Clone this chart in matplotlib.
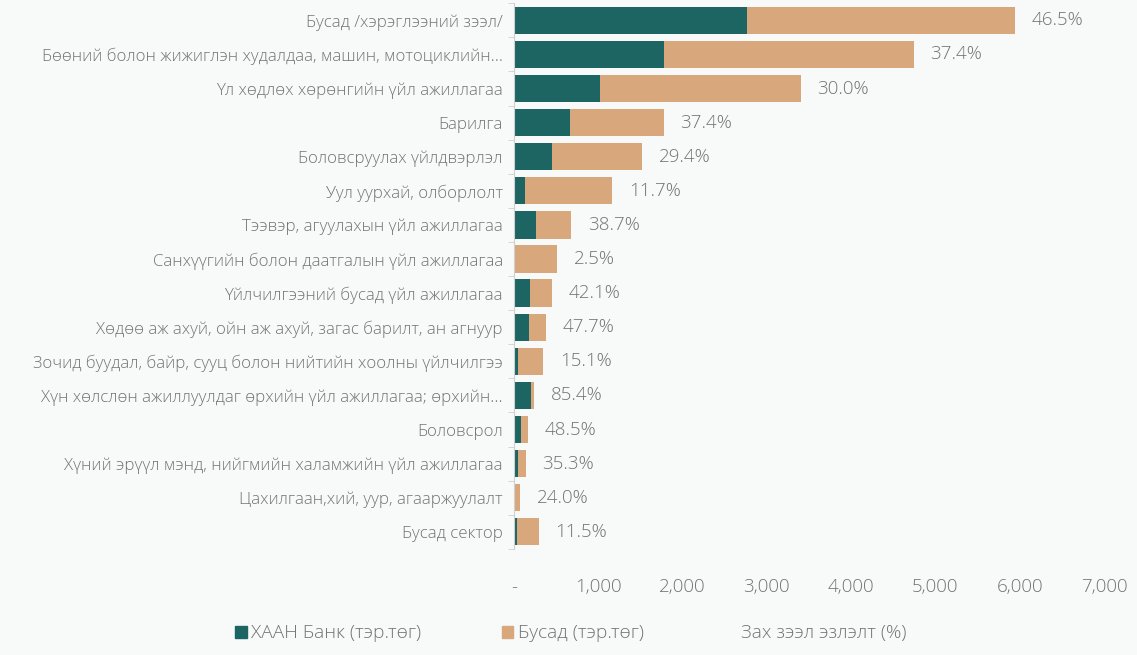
import numpy as np
import matplotlib.pyplot as plt
from matplotlib.patches import Patch

plt.rcParams['font.family'] = ['Open Sans', 'DejaVu Sans']
plt.rcParams['font.weight'] = 'light'

sectors = ['Бусад /хэрэглээний зээл/',
           'Бөөний болон жижиглэн худалдаа, машин, мотоциклийн...',
           'Үл хөдлөх хөрөнгийн үйл ажиллагаа',
           'Барилга',
           'Боловсруулах үйлдвэрлэл',
           'Уул уурхай, олборлолт',
           'Тээвэр, агуулахын үйл ажиллагаа',
           'Санхүүгийн болон даатгалын үйл ажиллагаа',
           'Үйлчилгээний бусад үйл ажиллагаа',
           'Хөдөө аж ахуй, ойн аж ахуй, загас барилт, ан агнуур',
           'Зочид буудал, байр, сууц болон нийтийн хоолны үйлчилгээ',
           'Хүн хөлслөн ажиллуулдаг өрхийн үйл ажиллагаа; өрхийн...',
           'Боловсрол',
           'Хүний эрүүл мэнд, нийгмийн халамжийн үйл ажиллагаа',
           'Цахилгаан,хий, уур, агааржуулалт',
           'Бусад сектор']
# ХААН Банк, тэр.төг
khan = [2760, 1775, 1020, 665, 447, 136, 264, 13, 188, 181, 53, 204, 81, 50, 18, 34]
# Бусад, тэр.төг
other = [3180, 2968, 2380, 1112, 1075, 1029, 418, 496, 258, 198, 297, 35, 86, 92, 57, 263]
share = ['46.5%', '37.4%', '30.0%', '37.4%', '29.4%', '11.7%', '38.7%', '2.5%',
         '42.1%', '47.7%', '15.1%', '85.4%', '48.5%', '35.3%', '24.0%', '11.5%']
xticks = [0, 1000, 2000, 3000, 4000, 5000, 6000, 7000]
xticklabels = ['-', '1,000', '2,000', '3,000', '4,000', '5,000', '6,000', '7,000']

teal = '#1d6562'
tan = '#d9a77c'
grey = '#737373'
bg = '#f8f9f9'

fig = plt.figure(figsize=(11.37, 6.55), dpi=100, facecolor=bg)
ax = fig.add_axes([0.452, 0.162, 0.519, 0.833], facecolor=bg)

y = np.arange(len(sectors))
ax.barh(y, khan, height=0.8, color=teal)
ax.barh(y, other, left=khan, height=0.8, color=tan)

for i in range(len(sectors)):
    ax.annotate(share[i], (khan[i] + other[i], y[i]), xytext=(12, 0),
                textcoords='offset points', va='center', ha='left',
                fontsize=13.5, color=grey)

ax.set_ylim(len(sectors) - 0.5, -0.5)
ax.set_xlim(0, 7000)
ax.set_yticks(y)
ax.set_yticklabels(sectors, fontsize=12.2, color=grey)
ax.set_yticks(np.arange(len(sectors) + 1) - 0.5, minor=True)
ax.tick_params(axis='y', which='major', length=0, pad=8)
ax.tick_params(axis='y', which='minor', length=4, color='#d0d0d0')
ax.set_xticks(xticks)
ax.set_xticklabels(xticklabels, fontsize=13.5, color=grey)
ax.tick_params(axis='x', length=0, pad=21)
for s in ['top', 'right', 'bottom']:
    ax.spines[s].set_visible(False)
ax.spines['left'].set_color('#d0d0d0')

handles = [Patch(color=teal), Patch(color=tan), Patch(color='none')]
fig.legend(handles, ['ХААН Банк (тэр.төг)', 'Бусад (тэр.төг)', 'Зах зээл эзлэлт (%)'],
           loc='center', bbox_to_anchor=(0.502, 0.033), ncol=3, frameon=False,
           handlelength=0.6, handleheight=0.6, handletextpad=0.25, columnspacing=4.2,
           fontsize=13.8, labelcolor=grey)

fig.savefig('out.png', dpi=100, facecolor=bg)
